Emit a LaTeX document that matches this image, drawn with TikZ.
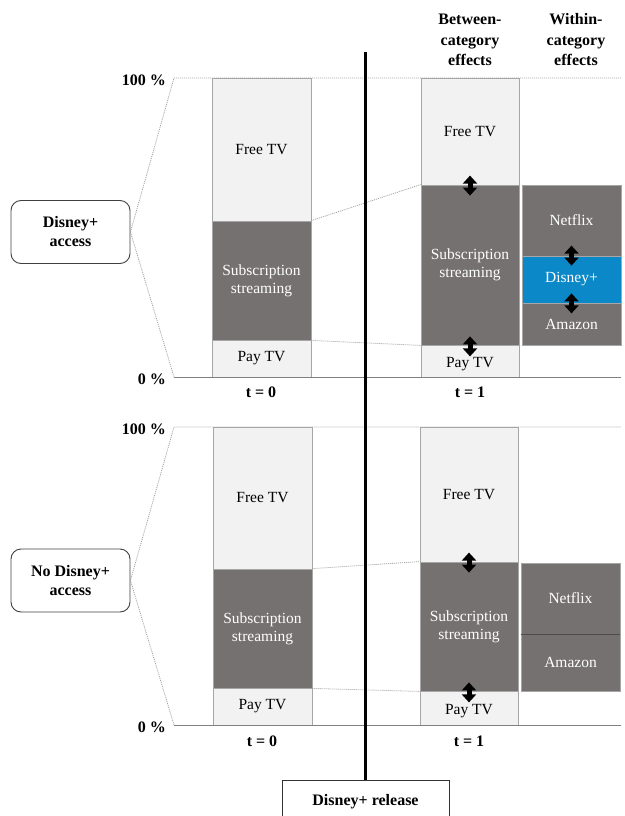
\documentclass[tikz,border=0pt]{standalone}
\usepackage{fontspec}
\setmainfont{Liberation Serif}
\usetikzlibrary{arrows.meta}
\definecolor{lightfill}{HTML}{F2F2F2}
\definecolor{segborder}{HTML}{A6A6A6}
\definecolor{darkfill}{HTML}{767171}
\definecolor{bluefill}{HTML}{0A88C8}
\definecolor{dotgrey}{HTML}{A0A0A0}
\definecolor{axisgrey}{HTML}{808080}
\newcommand\seg[7]{\node[#2, minimum width={(#5-#3)*1pt}, minimum height={(#6-#4)*1pt}] (#1) at ({(#3+#5)/2},{(#4+#6)/2}) {#7};}
\tikzset{
  segbase/.style={draw=segborder, line width=0.8pt, inner sep=0pt, align=center,
    font=\fontsize{15.5}{18}\selectfont},
  light/.style={segbase, fill=lightfill, text=black},
  dark/.style={segbase, fill=darkfill, text=white},
  blue/.style={segbase, fill=bluefill, text=white},
  boldlbl/.style={font=\fontsize{16}{20}\selectfont\bfseries, inner sep=0pt, align=center},
  sidebox/.style={draw=black!75, line width=0.9pt, rounded corners=10pt, fill=white,
    minimum width=119pt, minimum height=63pt, align=center, inner sep=0pt,
    font=\fontsize{16}{19}\selectfont\bfseries},
  relbox/.style={draw=black!80, line width=0.9pt, fill=white, minimum width=167pt,
    minimum height=44pt, inner sep=0pt, font=\fontsize{16}{19}\selectfont\bfseries},
  dotline/.style={draw=dotgrey, line width=0.8pt, dash pattern=on 1pt off 1pt},
  axisline/.style={draw=axisgrey, line width=0.8pt},
  dbl/.style={line width=5pt, {Triangle[width=14pt,length=8pt]}-{Triangle[width=14pt,length=8pt]}},
}
\begin{document}
\begin{tikzpicture}[x=1pt, y=-1pt]
\useasboundingbox (0,0) rectangle (624,816);
% ---------- coordinates for the scales
\coordinate (aT) at (174,78);   \coordinate (aTR) at (621,78);
\coordinate (aB) at (174,377);  \coordinate (aBR) at (621,377);
\coordinate (bT) at (174,427);  \coordinate (bTR) at (621,427);
\coordinate (bB) at (174,725);  \coordinate (bBR) at (621,725);
% ---------- headers
\node[boldlbl, font=\fontsize{16}{20.5}\selectfont\bfseries] (hbetween) at (470,40) {Between-\\category\\effects};
\node[boldlbl, font=\fontsize{16}{20.5}\selectfont\bfseries] (hwithin) at (576,40) {Within-\\category\\effects};
% ---------- side boxes
\node[sidebox] (accA) at (70.5,232) {Disney+\\access};
\node[sidebox] (accB) at (70.5,580.5) {No Disney+\\access};
% ---------- scale lines
\draw[dotline] (accA.east) -- (aT) -- (aTR);
\draw[dotline] (accA.east) -- (aB);
\draw[dotline] (accB.east) -- (bT) -- (bTR);
\draw[dotline] (accB.east) -- (bB);
% ---------- top panel bars
\seg{tA0f}{light}{212}{78}{311}{221}{Free TV}
\seg{tA0s}{dark}{212}{221}{311}{340}{Subscription\\streaming}
\seg{tA0p}{light}{212}{340}{311}{377}{Pay TV}
\seg{tA1f}{light}{421}{78}{519}{185}{Free TV}
\seg{tA1s}{dark}{421}{185}{519}{345}{Subscription\\streaming}
\seg{tA1p}{light}{421}{345}{519}{377}{\rule{0pt}{16pt}Pay TV}
\seg{tAn}{dark}{522}{185}{621}{256}{Netflix}
\seg{tAd}{blue}{522}{256}{621}{303}{Disney+}
\seg{tAa}{dark}{522}{303}{621}{345}{Amazon}
% ---------- bottom panel bars
\seg{tB0f}{light}{213}{427}{312}{569}{Free TV}
\seg{tB0s}{dark}{213}{569}{312}{688}{Subscription\\streaming}
\seg{tB0p}{light}{213}{688}{312}{725}{Pay TV}
\seg{tB1f}{light}{420}{427}{518}{562}{Free TV}
\seg{tB1s}{dark}{420}{562}{518}{691}{Subscription\\streaming}
\seg{tB1p}{light}{420}{691}{518}{725}{\rule{0pt}{16pt}Pay TV}
\seg{tBn}{dark}{521}{563}{620}{634}{Netflix}
\seg{tBa}{dark}{521}{634}{620}{691}{Amazon}
\draw[draw=black!70, line width=0.8pt] (tBn.south west) -- (tBn.south east);
% ---------- zero lines
\draw[axisline] (aB) -- (aBR);
\draw[axisline] (bB) -- (bBR);
% ---------- dotted connectors between bars
\draw[dotline] (tA0s.north east) -- (tA1s.north west);
\draw[dotline] (tA0s.south east) -- (tA1s.south west);
\draw[dotline] (tB0s.north east) -- (tB1s.north west);
\draw[dotline] (tB0s.south east) -- (tB1s.south west);
% ---------- scale labels
\node[boldlbl, anchor=east] (l100a) at (166,80) {100 \%};
\node[boldlbl, anchor=east] (l0a) at (166,379) {0 \%};
\node[boldlbl, anchor=east] (l100b) at (166,429) {100 \%};
\node[boldlbl, anchor=east] (l0b) at (166,727) {0 \%};
\node[boldlbl] (tA0) at (261,392) {t = 0};
\node[boldlbl] (tA1) at (470,392) {t = 1};
\node[boldlbl] (tB0) at (262,741) {t = 0};
\node[boldlbl] (tB1) at (469,741) {t = 1};
% ---------- effect arrows
\draw[dbl] ([yshift=9pt]tA1s.north) -- ([yshift=-11pt]tA1s.north);
\draw[dbl] ([yshift=9pt]tA1s.south) -- ([yshift=-11pt]tA1s.south);
\draw[dbl] ([yshift=10pt]tAd.north) -- ([yshift=-10pt]tAd.north);
\draw[dbl] ([yshift=10pt]tAd.south) -- ([yshift=-10pt]tAd.south);
\draw[dbl] ([yshift=9pt]tB1s.north) -- ([yshift=-11pt]tB1s.north);
\draw[dbl] ([yshift=9pt]tB1s.south) -- ([yshift=-11pt]tB1s.south);
% ---------- release line
\node[relbox] (rel) at (365.5,802) {Disney+ release};
\coordinate (vtop) at (365.5,52);
\draw[line width=3pt] (vtop) -- (rel.north);
\end{tikzpicture}
\end{document}
